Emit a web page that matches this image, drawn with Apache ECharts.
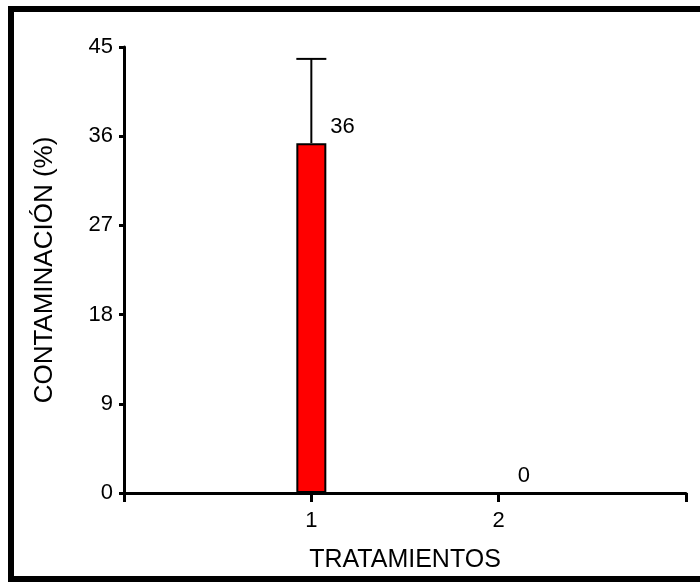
<!DOCTYPE html>
<html>
<head>
<meta charset="utf-8">
<script src="https://cdn.jsdelivr.net/npm/echarts@6/dist/echarts.min.js"></script>
<style>
html,body{margin:0;padding:0;background:#fff;}
#c{width:700px;height:582px;}
</style>
</head>
<body>
<div id="c"></div>
<script>
const categories = ['1', '2'];
const values = [35.3, 0];
const errors = [8.5, 0];
const valueLabels = ['36', '0'];
const yMin = 0, yMax = 45, yInterval = 9;
const xMin = 0, xMax = 3;
const xTitle = 'TRATAMIENTOS';
const yTitle = 'CONTAMINACIÓN (%)';

const FONT = "'Liberation Sans', Arial, sans-serif";
const chart = echarts.init(document.getElementById('c'), null, {renderer: 'canvas'});

const barData = categories.map((c, i) => [i + 1, values[i]]);
const errData = categories.map((c, i) => [i + 1, values[i], errors[i]]);

chart.setOption({
  animation: false,
  backgroundColor: '#ffffff',
  graphic: [{
    type: 'rect',
    shape: {x: 11, y: 9, width: 720, height: 570},
    style: {fill: 'none', stroke: '#000', lineWidth: 6},
    silent: true, z: 100
  }],
  grid: {left: 124, right: 14, top: 47, bottom: 89, containLabel: false},
  xAxis: {
    type: 'value', min: xMin, max: xMax, interval: 1,
    name: xTitle, nameLocation: 'middle', nameGap: 55,
    nameTextStyle: {fontFamily: FONT, fontSize: 25, color: '#000'},
    axisLine: {show: true, lineStyle: {color: '#000', width: 3}},
    axisTick: {show: true, length: 9, lineStyle: {color: '#000', width: 3}},
    axisLabel: {
      fontFamily: FONT, fontSize: 22, color: '#000', margin: 17,
      formatter: v => (v >= 1 && v <= categories.length) ? categories[v - 1] : ''
    },
    splitLine: {show: false}
  },
  yAxis: {
    type: 'value', min: yMin, max: yMax, interval: yInterval,
    name: yTitle, nameLocation: 'middle', nameGap: 66, nameRotate: 90,
    nameTextStyle: {fontFamily: FONT, fontSize: 26, color: '#000'},
    axisLine: {show: true, lineStyle: {color: '#000', width: 3}},
    axisTick: {show: true, length: 5, lineStyle: {color: '#000', width: 3}},
    axisLabel: {fontFamily: FONT, fontSize: 22, color: '#000', margin: 11},
    splitLine: {show: false}
  },
  series: [
    {
      type: 'custom',
      z: 1,
      renderItem: function (params, api) {
        const x = api.value(0), v = api.value(1), e = api.value(2);
        if (!e) return null;
        const p0 = api.coord([x, v]);
        const p1 = api.coord([x, v + e]);
        const half = 15;
        return {
          type: 'group',
          children: [
            {type: 'line', shape: {x1: p0[0], y1: p0[1], x2: p1[0], y2: p1[1]}, style: {stroke: '#000', lineWidth: 2}},
            {type: 'line', shape: {x1: p1[0] - half, y1: p1[1], x2: p1[0] + half, y2: p1[1]}, style: {stroke: '#000', lineWidth: 2}}
          ]
        };
      },
      data: errData
    },
    {
      type: 'bar',
      z: 2,
      barWidth: 30,
      itemStyle: {color: '#ff0000', borderColor: '#000', borderWidth: 2},
      label: {
        show: true, position: 'top', distance: 0, align: 'left', verticalAlign: 'bottom',
        offset: [19, -5],
        fontFamily: FONT, fontSize: 22, color: '#000',
        formatter: p => valueLabels[p.dataIndex]
      },
      data: barData
    }
  ]
});
</script>
</body>
</html>
